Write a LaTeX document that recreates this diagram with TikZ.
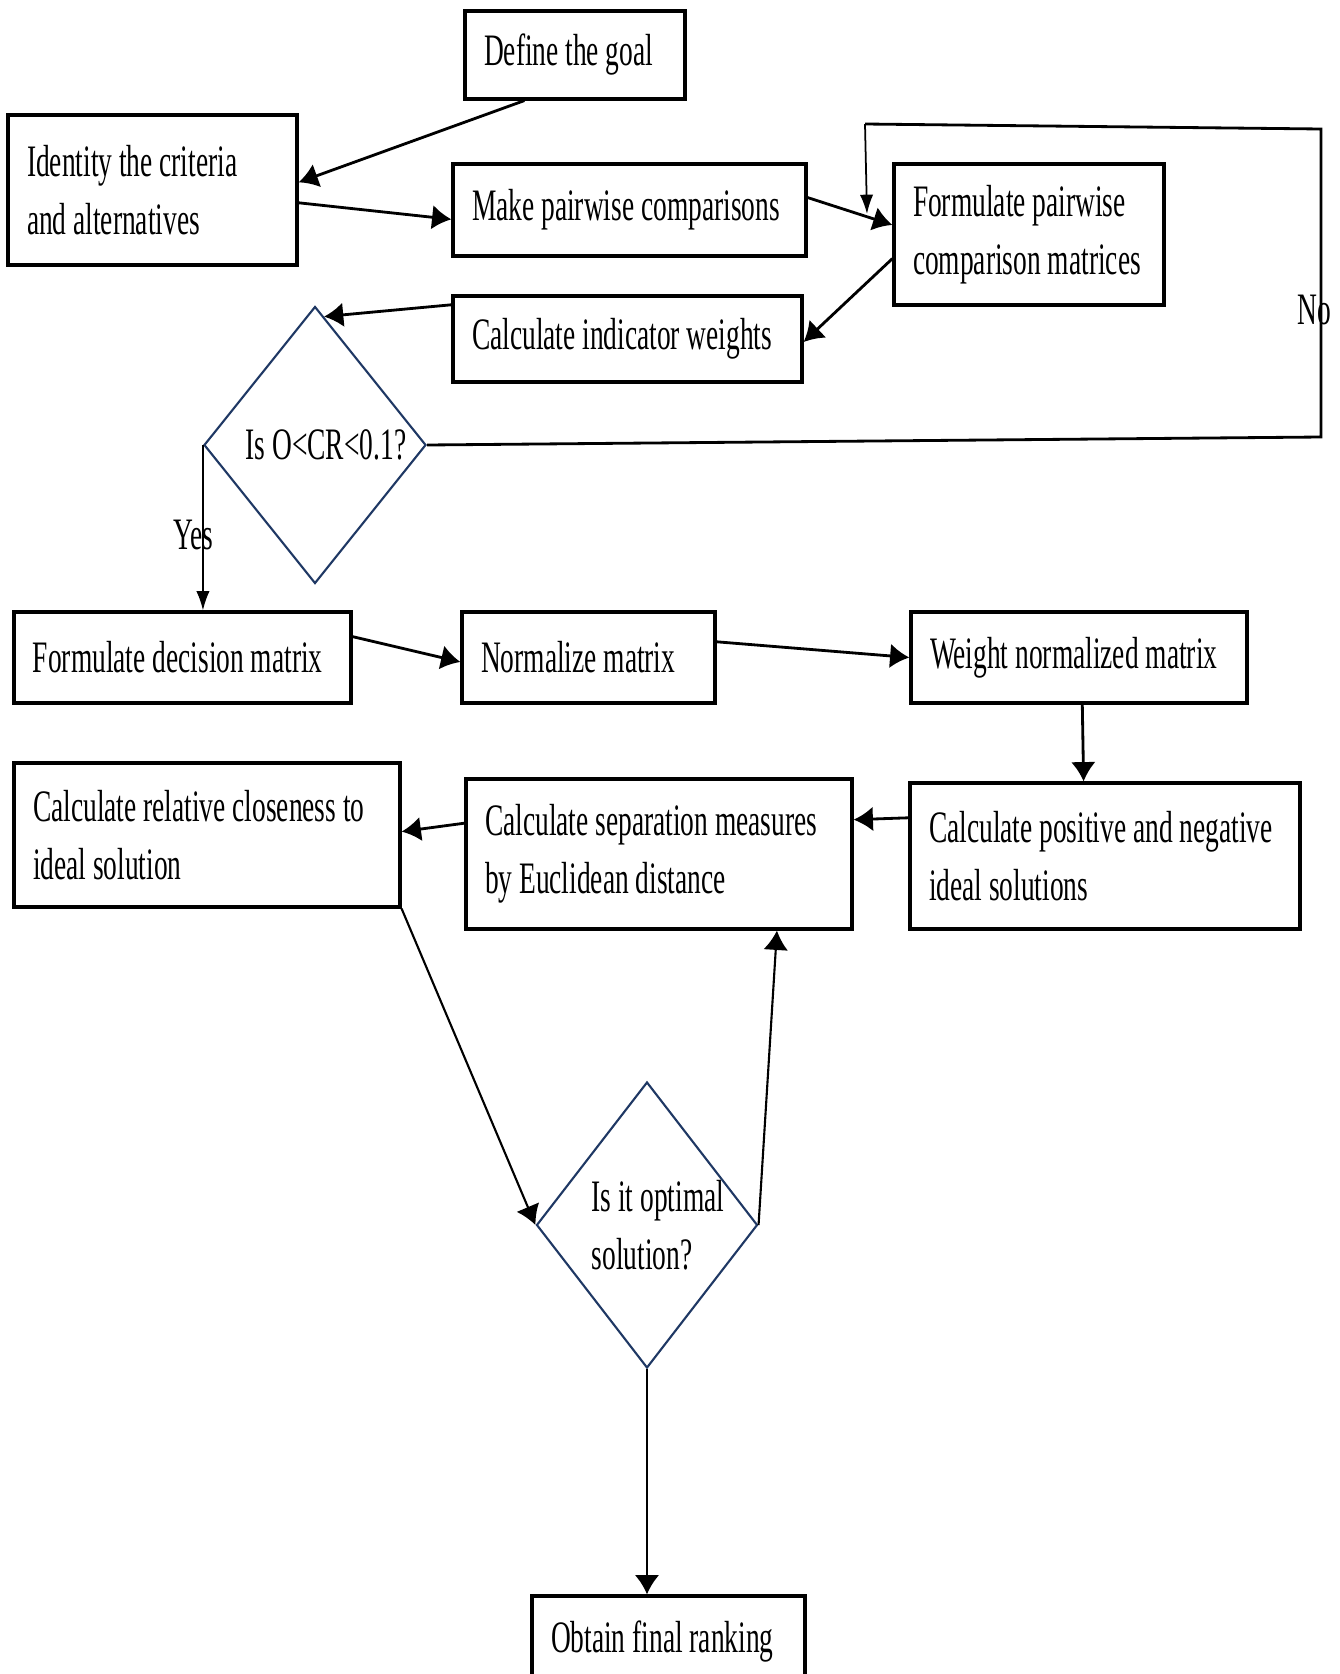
\documentclass[tikz,border=0pt]{standalone}
\usepackage{fontspec}
\setmainfont[FakeStretch=0.61]{Liberation Serif}
\usetikzlibrary{arrows.meta, shapes.geometric}
\definecolor{decblue}{HTML}{1F3864}

\begin{document}
\begin{tikzpicture}[>={Latex[length=5.5pt,width=7pt]},
    box/.style={draw, line width=0.9pt, align=flush left, inner xsep=0.19cm, inner ysep=0pt,
        font=\fontsize{12.8}{16.6}\selectfont},
    decision/.style={draw=decblue, line width=0.6pt, diamond, inner sep=-0.1cm, align=flush left,
        font=\fontsize{12.8}{16.6}\selectfont},
    flow/.style={->, line width=0.8pt},
    thinflow/.style={-{Latex[length=5.5pt,width=3.8pt]}, line width=0.5pt}]

\useasboundingbox (0,0) rectangle (13.4,-16.74);
\clip (0,0) rectangle (13.4,-16.74);

    % AHP part
    \node[box, text width=1.82cm, minimum height=0.88cm] (goal) at (5.75,-0.55) {Define the goal};
    \node[box, text width=2.51cm, minimum height=1.50cm] (ident) at (1.525,-1.90) {Identity the criteria\\and alternatives};
    \node[box, text width=3.15cm, minimum height=0.92cm] (make) at (6.295,-2.10) {Make pairwise comparisons};
    \node[box, text width=2.32cm, minimum height=1.41cm] (formpw) at (10.29,-2.345) {Formulate pairwise\\comparison matrices};
    \node[box, text width=3.11cm, minimum height=0.86cm] (weights) at (6.275,-3.39) {Calculate indicator weights};
    \node[decision, minimum width=2.22cm, minimum height=2.77cm] (dia1) at (3.15,-4.45) {\hspace*{0.22cm}Is O<CR<0.1?};

    % TOPSIS part
    \node[box, text width=2.99cm, minimum height=0.91cm] (dec) at (1.825,-6.575) {Formulate decision matrix};
    \node[box, text width=2.15cm, minimum height=0.91cm] (norm) at (5.885,-6.575) {Normalize matrix};
    \node[box, text width=2.98cm, minimum height=0.91cm] (wnorm) at (10.79,-6.575) {Weight normalized matrix};
    \node[box, text width=3.52cm, minimum height=1.46cm] (pos) at (11.05,-8.56) {Calculate positive and negative\\ideal solutions};
    \node[box, text width=3.48cm, minimum height=1.50cm] (sep) at (6.59,-8.54) {Calculate separation measures\\by Euclidean distance};
    \node[box, text width=3.48cm, minimum height=1.44cm] (close) at (2.07,-8.35) {Calculate relative closeness to\\ideal solution};
    \node[decision, minimum width=2.21cm, minimum height=2.86cm] (dia2) at (6.47,-12.25) {\hspace*{0.22cm}Is it optimal\\\hspace*{0.22cm}solution?};
    \node[box, text width=2.35cm, minimum height=0.90cm] (obtain) at (6.685,-16.41) {Obtain final ranking};

    % Edges
    \draw[flow] (goal.222) -- (ident.3);
    \draw[flow] (ident.355) -- (make.183);
    \draw[flow] (make.4) -- (formpw.176);
    \draw[flow] (formpw.190) -- (weights.359);
    \draw[flow] (weights.169) -- (dia1.86);

    % No loop back
    \coordinate (noa) at (13.21,-4.37);
    \coordinate (nob) at (13.21,-1.29);
    \coordinate (noc) at (8.65,-1.24);
    \coordinate (nod) at (8.67,-2.14);
    \draw[line width=0.8pt] (dia1.east) -- (noa) -- (nob) -- (noc);
    \draw[thinflow] (noc) -- (nod);
    \node[font=\fontsize{12.8}{16.6}\selectfont] (nolabel) at (13.14,-3.10) {No};

    % Yes branch
    \draw[thinflow] (dia1.west) -- (dia1.west |- dec.north);
    \node[font=\fontsize{12.8}{16.6}\selectfont] (yeslabel) at (1.93,-5.35) {Yes};

    \draw[flow] (dec.7) -- (norm.182);
    \draw[flow] (norm.7) -- (wnorm.180);
    \draw[flow] (wnorm.274) -- (pos.106);
    \draw[flow] (pos.169) -- (sep.10);
    \draw[flow] (sep.171) -- (close.1.5);
    \draw[->, line width=0.6pt] (close.south east) -- (dia2.west);
    \draw[->, line width=0.6pt] (dia2.east) -- (sep.327);
    \draw[flow] (dia2.south) -- (dia2.south |- obtain.north);

\end{tikzpicture}
\end{document}
